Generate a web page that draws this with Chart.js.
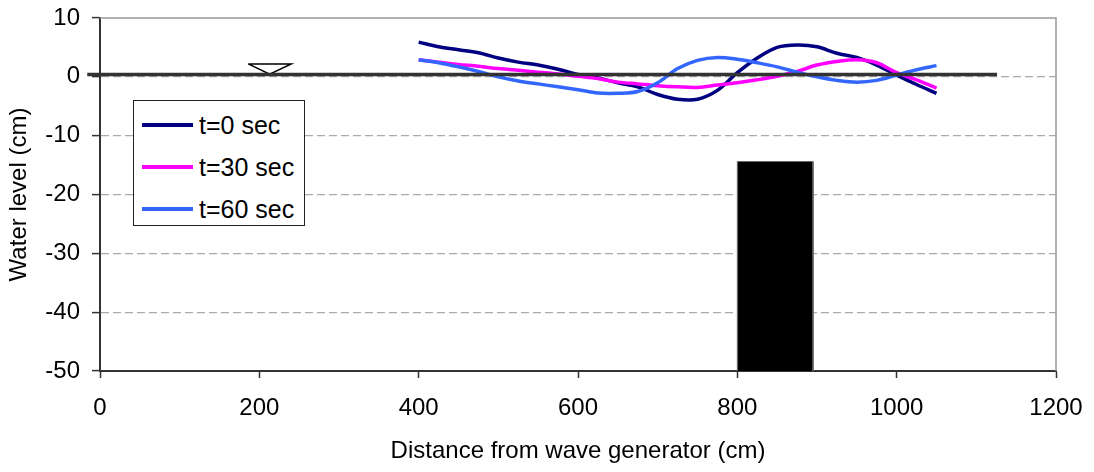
<!DOCTYPE html>
<html>
<head>
<meta charset="utf-8">
<script src="https://cdn.jsdelivr.net/npm/chart.js@4"></script>
<style>
  body { margin: 0; background: #fff; }
  #wrap { position: relative; width: 1094px; height: 472px; }
  #legend {
    position: absolute; left: 133px; top: 100px; width: 170px; height: 124px;
    border: 1px solid #222; background: #fff;
    font-family: "Liberation Sans", Arial, sans-serif; font-size: 25px; color: #000;
  }
  #legend .row { position: absolute; left: 8px; height: 30px; display: flex; align-items: center; }
  #legend .swatch { width: 51px; height: 4px; margin-right: 6px; }
</style>
</head>
<body>
<div id="wrap">
  <canvas id="chart" width="1094" height="472"></canvas>
  <div id="legend"></div>
</div>
<script>
// Chart values
const distances = [400, 425, 450, 475, 500, 525, 550, 575, 600, 625, 650, 675, 700, 725,
                   750, 775, 800, 825, 850, 875, 900, 925, 950, 975, 1000, 1025, 1050];
const levelT0 = [5.9, 5.1, 4.6, 4.1, 3.2, 2.5, 2.0, 1.3, 0.4, -0.2, -1.0, -1.7, -3.0, -3.8,
                 -3.8, -2.3, 0.7, 3.2, 5.0, 5.4, 5.1, 4.0, 3.3, 2.0, 0.3, -1.3, -2.8];
const levelT30 = [2.9, 2.5, 2.1, 1.8, 1.4, 1.1, 0.8, 0.5, 0.1, -0.3, -0.9, -1.2, -1.5, -1.7,
                  -1.8, -1.4, -1.0, -0.5, 0.1, 0.9, 2.0, 2.6, 2.9, 2.4, 0.7, -0.5, -1.9];
const levelT60 = [2.9, 2.4, 1.7, 0.9, 0.0, -0.7, -1.2, -1.7, -2.2, -2.75, -2.8, -2.5, -1.0, 1.4,
                  2.8, 3.3, 3.0, 2.4, 1.7, 0.8, 0.0, -0.6, -0.9, -0.6, 0.3, 1.2, 1.9];
const seriesNames = ['t=0 sec', 't=30 sec', 't=60 sec'];
const seriesColors = ['#000080', '#ff00ff', '#3366ff'];

// still water line, water level marker and the submerged structure
const stillWaterX = [-16, 1126];
const stillWaterY = [0.4, 0.4];
const markerX = [186, 240, 213, 186];
const markerY = [2.2, 2.2, 0.45, 2.2];
const structureX = [800, 800, 895, 895];
const structureY = [-50, -14.4, -14.4, -50];

const xTicks = [0, 200, 400, 600, 800, 1000, 1200];
const yTicks = [-50, -40, -30, -20, -10, 0, 10];

function points(xs, ys) {
  return xs.map((x, i) => ({ x: x, y: ys[i] }));
}

const allSeries = [levelT0, levelT30, levelT60];
const curveSets = allSeries.map((vals, i) => ({
  label: seriesNames[i],
  data: points(distances, vals),
  borderColor: seriesColors[i],
  borderWidth: 3.5,
  pointRadius: 0,
  tension: 0.35,
  fill: false,
  order: 2 + (2 - i)
}));

const datasets = [
  {
    label: 'still water',
    data: points(stillWaterX, stillWaterY),
    borderColor: '#333333',
    borderWidth: 3.5,
    pointRadius: 0,
    clip: false,
    order: 0
  },
  {
    label: 'marker',
    data: points(markerX, markerY),
    borderColor: '#000000',
    borderWidth: 1.5,
    pointRadius: 0,
    order: 1
  }
].concat(curveSets).concat([
  {
    label: 'structure',
    data: points(structureX, structureY),
    borderColor: '#666666',
    borderWidth: 1,
    backgroundColor: '#000000',
    pointRadius: 0,
    fill: 'start',
    order: 9
  }
]);

// gray top and right frame of the plot area
const frame = {
  id: 'frame',
  beforeDatasetsDraw(chart) {
    const { ctx, chartArea: a } = chart;
    ctx.save();
    ctx.strokeStyle = '#999999';
    ctx.lineWidth = 1.5;
    ctx.beginPath();
    ctx.moveTo(a.left, a.top);
    ctx.lineTo(a.right, a.top);
    ctx.lineTo(a.right, a.bottom);
    ctx.stroke();
    ctx.restore();
  }
};

const font = { family: '"Liberation Sans", Arial, sans-serif', size: 24 };

new Chart(document.getElementById('chart'), {
  type: 'line',
  data: { datasets: datasets },
  options: {
    responsive: false,
    animation: false,
    layout: { padding: { top: 18, right: 38, left: 0, bottom: 0 } },
    plugins: { legend: { display: false }, tooltip: { enabled: false } },
    scales: {
      x: {
        type: 'linear',
        min: 0, max: 1200,
        afterBuildTicks: s => { s.ticks = xTicks.map(v => ({ value: v })); },
        afterFit: s => { s.height = 101; s.paddingLeft = 0; s.paddingRight = 0; },
        grid: { drawOnChartArea: false, tickLength: 7, tickColor: '#333', tickWidth: 1.5 },
        border: { color: '#333', width: 2 },
        ticks: { color: '#000', font: font, padding: 16, maxRotation: 0, callback: v => String(v) },
        title: { display: true, text: 'Distance from wave generator (cm)', color: '#000', font: font,
                 padding: { top: 4, bottom: 6 } }
      },
      y: {
        min: -50, max: 10,
        afterBuildTicks: s => { s.ticks = yTicks.map(v => ({ value: v })); },
        afterFit: s => { s.width = 100; s.paddingTop = 0; s.paddingBottom = 0; },
        grid: {
          color: c => (c.tick && (c.tick.value === 10 || c.tick.value === -50)) ? 'rgba(0,0,0,0)' : '#aaaaaa',
          lineWidth: 1.2,
          tickLength: 8, tickColor: '#333', tickWidth: 1.5, tickBorderDash: []
        },
        border: { color: '#333', width: 2, dash: [8, 4] },
        ticks: { color: '#000', font: font, padding: 12, callback: v => String(v) },
        title: { display: true, text: 'Water level (cm)', color: '#000', font: font,
                 padding: { top: 5, bottom: 4 } }
      }
    }
  },
  plugins: [frame]
});

// legend box inside the plot
const legend = document.getElementById('legend');
seriesNames.forEach((name, i) => {
  const row = document.createElement('div');
  row.className = 'row';
  row.style.top = (9 + i * 42) + 'px';
  const sw = document.createElement('span');
  sw.className = 'swatch';
  sw.style.background = seriesColors[i];
  const txt = document.createElement('span');
  txt.textContent = name;
  row.appendChild(sw);
  row.appendChild(txt);
  legend.appendChild(row);
});
</script>
</body>
</html>
